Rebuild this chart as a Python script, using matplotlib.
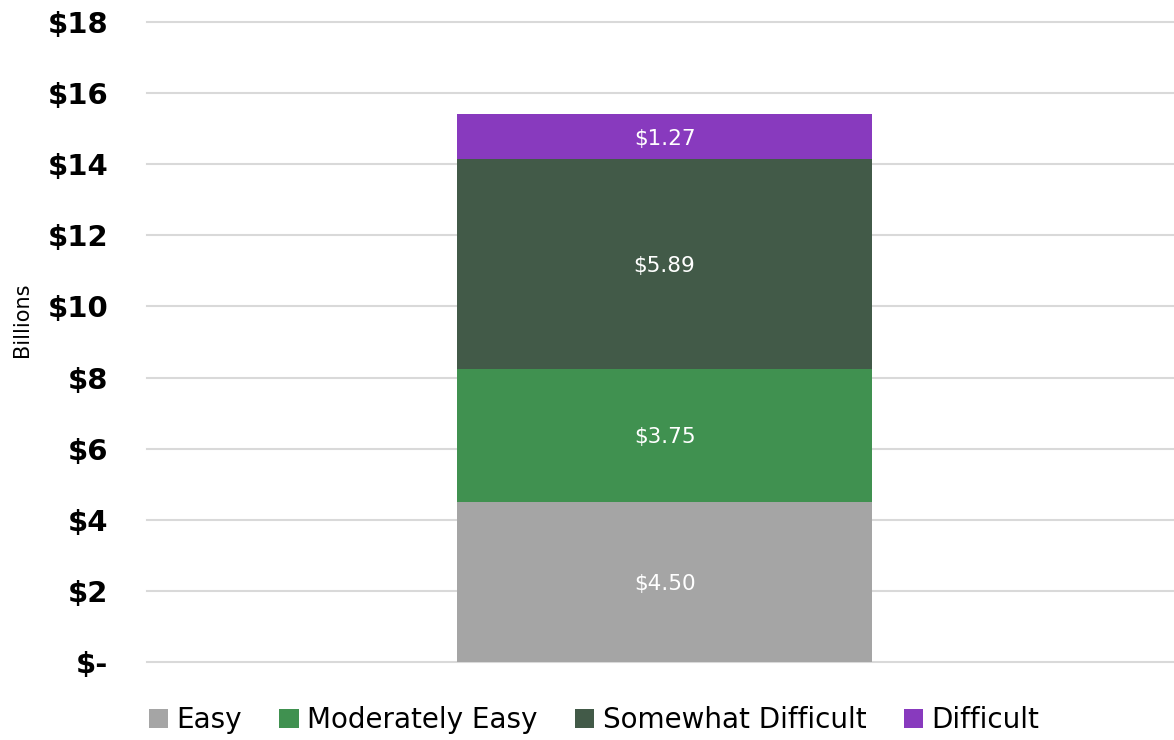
import matplotlib
matplotlib.use("Agg")
import matplotlib.pyplot as plt
from matplotlib.patches import Patch

categories = ["Easy", "Moderately Easy", "Somewhat Difficult", "Difficult"]
values = [4.50, 3.75, 5.89, 1.27]
colors = ["#A5A5A5", "#409150", "#425A48", "#883ABE"]
yticks = [0, 2, 4, 6, 8, 10, 12, 14, 16, 18]
ytick_labels = ["$-", "$2", "$4", "$6", "$8", "$10", "$12", "$14", "$16", "$18"]

plt.rcParams["font.family"] = ["DejaVu Sans"]

fig = plt.figure(figsize=(11.74, 7.40), dpi=100)
ax = fig.add_axes([147 / 1174, 1 - 662 / 740, 1 - 147 / 1174, (662 - 22) / 740])

bottom = 0.0
for cat, val, col in zip(categories, values, colors):
    ax.bar(0, val, width=0.404, bottom=bottom, color=col, label=cat, zorder=3)
    ax.text(0, bottom + val / 2, f"${val:.2f}", ha="center", va="center_baseline",
            color="white", fontsize=15.5, zorder=4)
    bottom += val

ax.set_xlim(-0.504, 0.496)
ax.set_ylim(0, 18)
ax.set_yticks(yticks)
ax.set_yticklabels(ytick_labels, fontsize=21, fontweight="bold")
ax.tick_params(axis="y", length=0, pad=28)
ax.set_xticks([])
for s in ax.spines.values():
    s.set_visible(False)
ax.yaxis.grid(True, color="#D9D9D9", linewidth=1.5, zorder=0)
ax.set_axisbelow(True)
for gl in ax.get_ygridlines():
    gl.set_clip_on(False)

fig.text(22 / 1174, 1 - 320 / 740, "Billions", rotation=90, ha="center",
         va="center", fontsize=15)

handles = [Patch(facecolor=c, edgecolor="none") for c in colors]
fig.legend(handles, categories, loc="center", bbox_to_anchor=(594 / 1174, 1 - 720 / 740),
           ncol=4, frameon=False, fontsize=20, handlelength=0.7, handleheight=0.7,
           handletextpad=0.3, columnspacing=1.35, borderaxespad=0)

fig.savefig("out.png", dpi=100)
